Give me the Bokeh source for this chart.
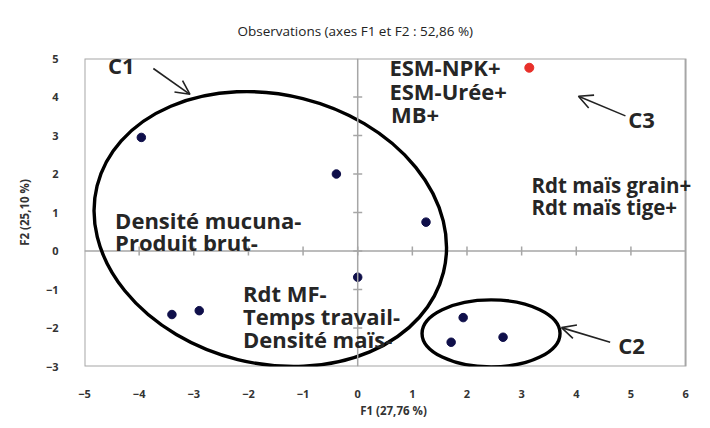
from bokeh.plotting import figure
from bokeh.models import FixedTicker, Span, Label, Arrow, OpenHead
from bokeh.embed import file_html
from bokeh.resources import INLINE

# ---- data ----
obs_x = [-3.96, -0.39, 1.25, 0.0, -3.40, -2.90, 1.93, 1.71, 2.66]
obs_y = [2.95, 2.00, 0.75, -0.68, -1.65, -1.55, -1.73, -2.37, -2.24]
c3_x = [3.14]
c3_y = [4.76]
x_ticks = [-5, -4, -3, -2, -1, 0, 1, 2, 3, 4, 5, 6]
y_ticks = [-3, -2, -1, 0, 1, 2, 3, 4, 5]
title_text = "Observations (axes F1 et F2 : 52,86 %)"
x_label = "F1 (27,76 %)"
y_label = "F2 (25,10 %)"

# annotation texts and their anchor positions (data units)
ann_text = ["C1", "ESM-NPK+", "ESM-Urée+", "MB+", "C3", "Rdt maïs grain+",
            "Rdt maïs tige+", "Densité mucuna-", "Produit brut-", "Rdt MF-",
            "Temps travail-", "Densité maïs-", "C2"]
ann_x = [-4.57, 0.58, 0.58, 0.61, 4.95, 3.18, 3.18, -4.44, -4.44, -2.10, -2.10, -2.10, 4.77]
ann_y = [4.84, 4.78, 4.15, 3.56, 3.43, 1.72, 1.13, 0.80, 0.24, -1.09, -1.68, -2.29, -2.45]
ann_size = ["22px"] * 5 + ["20.5px"] * 2 + ["22px"] * 6

# arrows: start -> end (head)
arr_x0 = [-3.74, 4.90, 4.62]
arr_y0 = [4.74, 3.51, -2.37]
arr_x1 = [-3.07, 4.04, 3.73]
arr_y1 = [4.07, 4.02, -1.99]

FONT = "Open Sans"
GREY = "#a6a6a6"

# the data frame extends a little past x = 6 so that labels may overflow the box
p = figure(width=702, height=420, x_range=(-5, 6.31), y_range=(-3, 5),
           output_backend="svg", toolbar_location=None,
           min_border_left=84, min_border_right=0, min_border_top=57, min_border_bottom=50)
p.title.text = title_text
p.title.align = "left"
p.title.offset = 153
p.title.standoff = 38
p.title.text_font = FONT
p.title.text_font_size = "13.5px"
p.title.text_font_style = "normal"
p.title.text_color = "#222222"

p.grid.visible = False
p.outline_line_color = None

for ax in (p.xaxis[0], p.yaxis[0]):
    ax.axis_line_color = None
    ax.major_tick_line_color = None
    ax.minor_tick_line_color = None
    ax.major_label_text_font = FONT
    ax.major_label_text_font_size = "11px"
    ax.major_label_text_font_style = "bold"
    ax.major_label_text_color = "#333333"
    ax.axis_label_text_font = FONT
    ax.axis_label_text_font_size = "11.5px"
    ax.axis_label_text_font_style = "bold"
    ax.axis_label_text_color = "#333333"
p.xaxis.ticker = FixedTicker(ticks=x_ticks)
p.yaxis.ticker = FixedTicker(ticks=y_ticks)
p.xaxis.major_label_standoff = 17
p.yaxis.major_label_standoff = 20
p.xaxis.axis_label = x_label
p.yaxis.axis_label = y_label
p.xaxis.axis_label_standoff = 2
p.yaxis.axis_label_standoff = 11

# plot box from the first to the last tick
p.quad(left=[x_ticks[0]], right=[x_ticks[-1]], bottom=[y_ticks[0]], top=[y_ticks[-1]],
       fill_color=None, line_color=GREY, line_width=2)

# crossing axes at 0
p.segment(x0=[x_ticks[0]], y0=[0], x1=[x_ticks[-1]], y1=[0], line_color=GREY, line_width=1.5)
p.add_layout(Span(location=0, dimension="height", line_color=GREY, line_width=1.5))
p.scatter(x=x_ticks[1:-1], y=[0] * len(x_ticks[1:-1]), marker="dash", angle=1.5708,
          size=9, line_color=GREY, line_width=1.5)
p.scatter(x=[0] * len(y_ticks[1:-1]), y=y_ticks[1:-1], marker="dash",
          size=9, line_color=GREY, line_width=1.5)

# cluster ellipses
p.ellipse(x=[-1.60], y=[0.57], width=357, height=269, angle=-14, angle_units="deg",
          width_units="screen", height_units="screen",
          fill_color=None, line_color="black", line_width=3.4)
p.ellipse(x=[2.44], y=[-2.14], width=138, height=67,
          width_units="screen", height_units="screen",
          fill_color=None, line_color="black", line_width=3.4)

# points
p.scatter(obs_x, obs_y, size=8.5, fill_color="#0f0f4a", line_color="#0f0f4a")
p.scatter(c3_x, c3_y, size=9, fill_color="#e8302a", line_color="#e8302a")

for t, x, y, s in zip(ann_text, ann_x, ann_y, ann_size):
    p.add_layout(Label(x=x, y=y, text=t, text_font=FONT, text_font_size=s,
                       text_font_style="bold",
                       text_baseline="middle", text_align="left", text_color="#262626"))

for x0, y0, x1, y1 in zip(arr_x0, arr_y0, arr_x1, arr_y1):
    p.add_layout(Arrow(x_start=x0, y_start=y0, x_end=x1, y_end=y1,
                       line_color="#222222", line_width=1.6,
                       end=OpenHead(size=14, line_color="#222222", line_width=1.6)))

open("out.html", "w").write(file_html(p, INLINE))
